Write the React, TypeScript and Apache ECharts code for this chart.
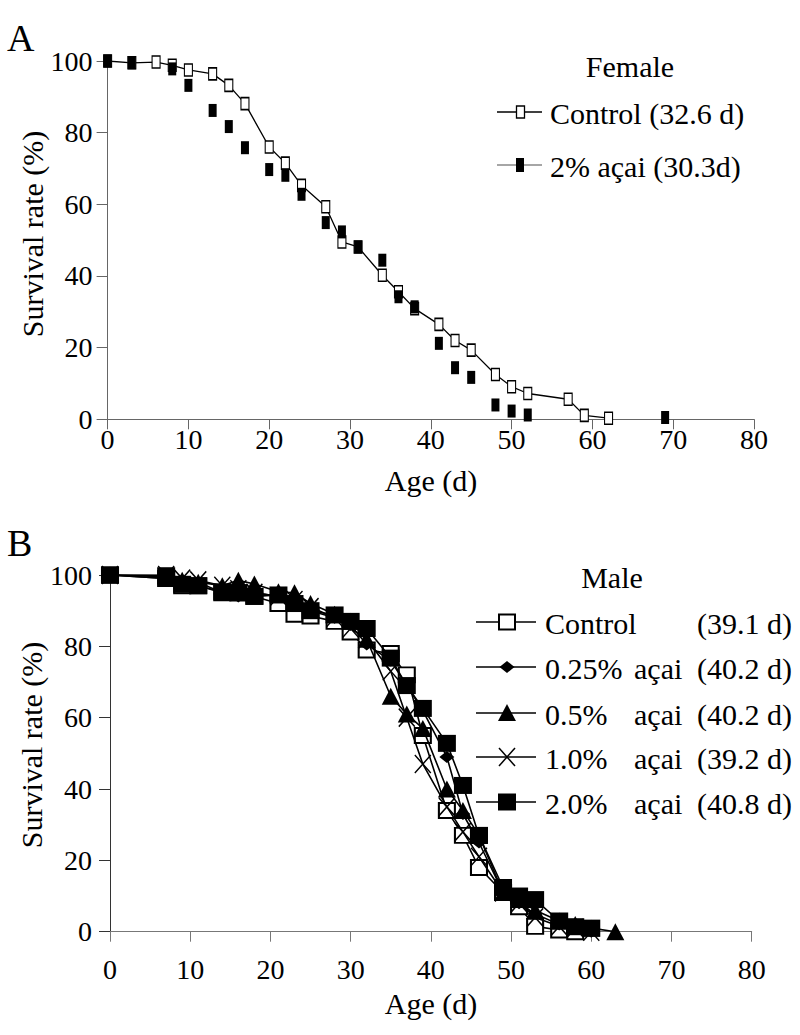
import React, { useEffect, useRef } from "react";
import * as echarts from "echarts";

// ---------- Panel A (female) ----------
const femaleControlDays = [0, 3, 6, 8, 10, 13, 15, 17, 20, 22, 24, 27, 29, 31, 34, 36, 38, 41, 43, 45, 48, 50, 52, 57, 59, 62];
const femaleControl = [100, 99.5, 99.7, 98.8, 97.5, 96.4, 93.2, 88.1, 76.0, 71.5, 65.3, 59.3, 49.5, 48.1, 40.2, 35.6, 30.9, 26.5, 22.0, 19.3, 12.5, 9.1, 7.2, 5.6, 1.1, 0.3];
const femaleAcaiDays = [0, 3, 8, 10, 13, 15, 17, 20, 22, 24, 27, 29, 31, 34, 36, 38, 41, 43, 45, 48, 50, 52, 69];
const femaleAcai = [100, 99.5, 97.8, 93.2, 86.2, 81.7, 75.8, 69.7, 68.1, 62.8, 54.9, 52.3, 48.1, 44.4, 34.2, 31.4, 21.2, 14.4, 11.7, 4.0, 2.3, 1.2, 0.5];

// ---------- Panel B (male) ----------
const maleDays = [0, 7, 9, 11, 14, 16, 18, 21, 23, 25, 28, 30, 32, 35, 37, 39, 42, 44, 46, 49, 51, 53, 56, 58, 60, 63];
const maleControl = [100, 99, 97, 97, 95, 95, 94, 92, 89, 88.5, 87, 84, 79, 78, 72, 55, 34, 27, 18, 11, 7, 1.5, 0.5, 0];
const male025 = [100, 99, 98.5, 98, 95, 94, 95, 94, 92, 90, 88, 86, 80.5, 76, 69, 62, 49, 33, 25, 11, 8, 5, 2, 1, 0];
const male05 = [100, 99.5, 98.5, 98, 97, 98.5, 97.5, 95.3, 95, 92, 89, 87, 82, 66, 61, 57, 40, 34, 27, 11, 9, 6, 3, 2, 1, 0];
const male10 = [100, 100, 99, 98.5, 97, 96, 95, 94, 93, 91, 88, 85, 82, 73, 60, 47, 35, 28, 21, 11, 8, 4, 1.5, 1, 0];
const male20 = [100, 99.8, 97.4, 97, 95.3, 95, 94, 94.4, 92, 90, 88.8, 87, 85, 76.7, 69, 62.6, 52.8, 41, 27, 12.4, 10, 9, 3, 1.4, 1];

const xTicks = [0, 10, 20, 30, 40, 50, 60, 70, 80];
const yTicks = [0, 20, 40, 60, 80, 100];

const femaleLegend = ["Control (32.6 d)", "2% açai (30.3d)"];
const maleLegend = [
  ["Control", "", "(39.1 d)"],
  ["0.25%", "açai", "(40.2 d)"],
  ["0.5%", "açai", "(40.2 d)"],
  ["1.0%", "açai", "(39.2 d)"],
  ["2.0%", "açai", "(40.8 d)"],
];

const FONT = "Liberation Serif";
const X_PATH = "path://M0,0L10,10M10,0L0,10";

function pairs(days: number[], vals: number[]) {
  return vals.map((v, i) => [days[i], v]);
}

function axisX(gridIndex: number, margin: number, lineColor: string) {
  return {
    gridIndex,
    type: "value",
    min: xTicks[0],
    max: xTicks[xTicks.length - 1],
    interval: 10,
    axisLine: { show: true, onZero: false, lineStyle: { color: lineColor, width: 1 } },
    axisTick: { show: true, inside: false, length: 10, lineStyle: { color: lineColor, width: 1 } },
    axisLabel: { color: "#000", fontFamily: FONT, fontSize: 28, margin },
    splitLine: { show: false },
  };
}

function axisY(gridIndex: number, margin: number, lineColor: string) {
  return {
    gridIndex,
    type: "value",
    min: yTicks[0],
    max: yTicks[yTicks.length - 1],
    interval: 20,
    axisLine: { show: true, onZero: false, lineStyle: { color: lineColor, width: 1 } },
    axisTick: { show: true, inside: false, length: 11, lineStyle: { color: lineColor, width: 1 } },
    axisLabel: { color: "#000", fontFamily: FONT, fontSize: 28, margin },
    splitLine: { show: false },
  };
}

function txt(text: string, x: number, y: number, size: number, align = "left", extra: any = {}) {
  return {
    type: "text",
    x,
    y,
    ...extra,
    style: {
      text,
      fill: "#000",
      fontFamily: FONT,
      fontSize: size,
      align,
      verticalAlign: "middle",
    },
  };
}

function hline(x1: number, x2: number, y: number, color = "#000", w = 1.3) {
  return { type: "line", shape: { x1, y1: y, x2, y2: y }, style: { stroke: color, lineWidth: w } };
}

export default function App() {
  const ref = useRef<HTMLDivElement>(null);

  useEffect(() => {
    if (!ref.current) return;
    const chart = echarts.init(ref.current, undefined, { renderer: "svg" });

    const rowsM = [622, 667, 713, 757, 802];
    const mx = 507;
    const graphic: any[] = [
      // panel letters
      txt("A", 7, 38, 38),
      txt("B", 7, 543, 38),
      // axis titles
      txt("Survival rate (%)", 32, 234, 30, "center", { rotation: Math.PI / 2 }),
      txt("Survival rate (%)", 31, 745, 30, "center", { rotation: Math.PI / 2 }),
      txt("Age (d)", 431, 480, 30, "center"),
      txt("Age (d)", 431, 1003, 30, "center"),
      // female legend
      txt("Female", 630, 66, 30, "center"),
      hline(497, 542, 112),
      { type: "rect", shape: { x: 516.5, y: 106, width: 8, height: 12 }, style: { fill: "#fff", stroke: "#000", lineWidth: 1.3 } },
      txt(femaleLegend[0], 550, 113, 30),
      hline(497, 542, 165, "#888"),
      { type: "rect", shape: { x: 516, y: 158, width: 8, height: 14 }, style: { fill: "#000" } },
      txt(femaleLegend[1], 550, 166, 30),
      // male legend
      txt("Male", 612, 577, 30, "center"),
    ];
    rowsM.forEach((y, i) => {
      graphic.push(hline(476, 536, y, "#000", 1.5));
      const row = maleLegend[i];
      graphic.push(txt(row[0], 545, y + 1, 30));
      if (row[1]) graphic.push(txt(row[1], 634, y + 1, 30));
      graphic.push(txt(row[2], 697, y + 1, 30));
    });
    // male legend markers
    graphic.push({ type: "rect", shape: { x: mx - 8, y: rowsM[0] - 7.5, width: 16, height: 15 }, style: { fill: "#fff", stroke: "#000", lineWidth: 2 } });
    graphic.push({ type: "polygon", shape: { points: [[mx, rowsM[1] - 6], [mx + 7.5, rowsM[1]], [mx, rowsM[1] + 6], [mx - 7.5, rowsM[1]]] }, style: { fill: "#000" } });
    graphic.push({ type: "polygon", shape: { points: [[mx, rowsM[2] - 9], [mx + 9, rowsM[2] + 8], [mx - 9, rowsM[2] + 8]] }, style: { fill: "#000" } });
    graphic.push({ type: "line", shape: { x1: mx - 8, y1: rowsM[3] - 9, x2: mx + 8, y2: rowsM[3] + 9 }, style: { stroke: "#000", lineWidth: 1.5 } });
    graphic.push({ type: "line", shape: { x1: mx + 8, y1: rowsM[3] - 9, x2: mx - 8, y2: rowsM[3] + 9 }, style: { stroke: "#000", lineWidth: 1.5 } });
    graphic.push({ type: "rect", shape: { x: mx - 9, y: rowsM[4] - 8.5, width: 18, height: 17 }, style: { fill: "#000" } });

    const maleBase = {
      type: "line",
      xAxisIndex: 1,
      yAxisIndex: 1,
      showAllSymbol: true,
      lineStyle: { color: "#000", width: 1.6 },
    };

    chart.setOption({
      animation: false,
      backgroundColor: "#fff",
      textStyle: { fontFamily: FONT },
      grid: [
        { left: 107.6, top: 61, width: 646.4, height: 358.3 },
        { left: 110, top: 575, width: 641.7, height: 356.7 },
      ],
      xAxis: [axisX(0, 6, "#666"), axisX(1, 24, "#777")],
      yAxis: [axisY(0, 15, "#666"), axisY(1, 18, "#333")],
      graphic,
      series: [
        {
          name: "Female control",
          type: "line",
          xAxisIndex: 0,
          yAxisIndex: 0,
          data: pairs(femaleControlDays, femaleControl),
          symbol: "rect",
          symbolSize: [8, 12],
          showAllSymbol: true,
          itemStyle: { color: "#fff", borderColor: "#000", borderWidth: 1.3 },
          lineStyle: { color: "#000", width: 1.3 },
          z: 2,
        },
        {
          name: "Female 2% acai",
          type: "scatter",
          xAxisIndex: 0,
          yAxisIndex: 0,
          data: pairs(femaleAcaiDays, femaleAcai),
          symbol: "rect",
          symbolSize: [8, 13],
          itemStyle: { color: "#000", opacity: 1 },
          z: 3,
        },
        {
          ...maleBase,
          name: "Male control",
          data: pairs(maleDays, maleControl),
          symbol: "rect",
          symbolSize: [16, 15],
          itemStyle: { color: "#fff", borderColor: "#000", borderWidth: 2 },
          z: 2,
        },
        {
          ...maleBase,
          name: "Male 0.5%",
          data: pairs(maleDays, male05),
          symbol: "triangle",
          symbolSize: [18, 17],
          itemStyle: { color: "#000" },
          z: 3,
        },
        {
          ...maleBase,
          name: "Male 1.0%",
          data: pairs(maleDays, male10),
          symbol: X_PATH,
          symbolSize: [16, 18],
          itemStyle: { color: "none", borderColor: "#000", borderWidth: 1.5 },
          z: 4,
        },
        {
          ...maleBase,
          name: "Male 0.25%",
          data: pairs(maleDays, male025),
          symbol: "diamond",
          symbolSize: [15, 12],
          itemStyle: { color: "#000" },
          z: 5,
        },
        {
          ...maleBase,
          name: "Male 2.0%",
          data: pairs(maleDays, male20),
          symbol: "rect",
          symbolSize: [18, 17],
          itemStyle: { color: "#000" },
          z: 6,
        },
      ],
    });

    return () => chart.dispose();
  }, []);

  return (
    <div
      ref={ref}
      style={{ position: "absolute", left: 0, top: 0, width: 800, height: 1035, background: "#fff" }}
    />
  );
}
